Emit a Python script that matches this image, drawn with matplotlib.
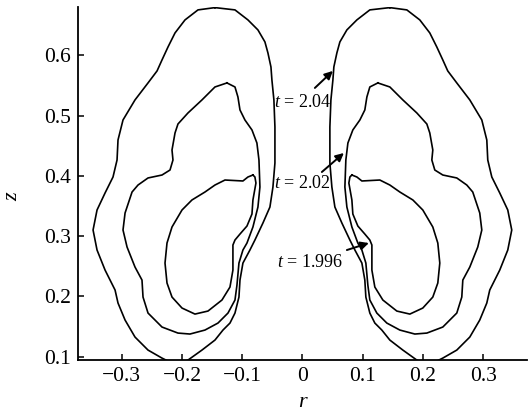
import matplotlib
matplotlib.use("Agg")
import matplotlib.pyplot as plt
import numpy as np

plt.rcParams['font.family'] = ['Liberation Serif', 'DejaVu Serif']
plt.rcParams['mathtext.fontset'] = 'custom'
plt.rcParams['mathtext.rm'] = 'Liberation Serif'
plt.rcParams['mathtext.it'] = 'Liberation Serif:italic'

# Interface contours (right half, r > 0); the left half is the mirror image
r_204 = [0.1451, 0.1733, 0.1948, 0.2114, 0.2230, 0.2330, 0.2412, 0.2562, 0.2778,
         0.2977, 0.3060, 0.3076, 0.3143, 0.3275, 0.3408, 0.3474, 0.3408, 0.3275,
         0.3109, 0.3060, 0.2943, 0.2778, 0.2562, 0.2330, 0.2197, 0.2032, 0.1899,
         0.1667, 0.1451, 0.1318, 0.1202, 0.1119, 0.1053, 0.1036, 0.0987, 0.0871,
         0.0788, 0.0655, 0.0539, 0.0489, 0.0456, 0.0456, 0.0473, 0.0506, 0.0522,
         0.0572, 0.0622, 0.0738, 0.0904, 0.1119, 0.1451]
z_204 = [0.6790, 0.6752, 0.6586, 0.6370, 0.6138, 0.5922, 0.5740, 0.5541, 0.5259,
         0.4927, 0.4595, 0.4263, 0.3981, 0.3716, 0.3434, 0.3102, 0.2770, 0.2438,
         0.2107, 0.1891, 0.1609, 0.1327, 0.1111, 0.0978, 0.0912, 0.0879, 0.0945,
         0.1111, 0.1277, 0.1443, 0.1559, 0.1725, 0.1990, 0.2272, 0.2554, 0.2770,
         0.2936, 0.3218, 0.3483, 0.3815, 0.4213, 0.4811, 0.5259, 0.5590, 0.5806,
         0.6038, 0.6221, 0.6420, 0.6586, 0.6752, 0.6790]

r_202 = [0.1252, 0.1451, 0.1667, 0.1899, 0.2065, 0.2114, 0.2164, 0.2148, 0.2197,
         0.2330, 0.2562, 0.2728, 0.2827, 0.2943, 0.2977, 0.2910, 0.2778, 0.2662,
         0.2645, 0.2562, 0.2330, 0.2065, 0.1866, 0.1617, 0.1401, 0.1235, 0.1119,
         0.1086, 0.1053, 0.0987, 0.0920, 0.0821, 0.0738, 0.0705, 0.0721, 0.0755,
         0.0837, 0.0954, 0.1036, 0.1070, 0.1119, 0.1252]
z_202 = [0.5541, 0.5474, 0.5259, 0.5043, 0.4860, 0.4711, 0.4429, 0.4263, 0.4097,
         0.4014, 0.3965, 0.3848, 0.3732, 0.3384, 0.3102, 0.2820, 0.2488, 0.2272,
         0.1990, 0.1725, 0.1493, 0.1393, 0.1377, 0.1443, 0.1559, 0.1725, 0.1941,
         0.2189, 0.2554, 0.2770, 0.2886, 0.3152, 0.3483, 0.3815, 0.4263, 0.4545,
         0.4761, 0.4927, 0.5093, 0.5308, 0.5474, 0.5541]

r_1996 = [0.0821, 0.0904, 0.0987, 0.1285, 0.1451, 0.1617, 0.1833, 0.1998, 0.2164,
          0.2247, 0.2280, 0.2247, 0.2164, 0.1998, 0.1783, 0.1567, 0.1335, 0.1202,
          0.1153, 0.1153, 0.1119, 0.1036, 0.0920, 0.0837, 0.0821, 0.0771, 0.0788,
          0.0821]
z_1996 = [0.4014, 0.3981, 0.3915, 0.3931, 0.3848, 0.3732, 0.3600, 0.3434, 0.3152,
          0.2886, 0.2554, 0.2223, 0.1990, 0.1808, 0.1708, 0.1758, 0.1941, 0.2156,
          0.2438, 0.2853, 0.2936, 0.3035, 0.3168, 0.3367, 0.3600, 0.3881, 0.3981,
          0.4014]

# label text, label position, arrow tail, arrow head
labels = ['$t$ = 2.04', '$t$ = 2.02', '$t$ = 1.996']
label_pos = [(0.0, 0.521), (0.0, 0.388), (0.0133, 0.257)]
arrow_tail = [(0.0207, 0.5458), (0.0323, 0.4064), (0.0738, 0.2770)]
arrow_head = [(0.0506, 0.5740), (0.0688, 0.4379), (0.1103, 0.2886)]

fig = plt.figure(figsize=(5.31, 4.12), dpi=100)
ax = fig.add_axes([0.147, 0.126, 0.845, 0.857])

for r, z in [(r_204, z_204), (r_202, z_202), (r_1996, z_1996)]:
    r = np.asarray(r)
    ax.plot(r, z, color='black', lw=1.2, solid_joinstyle='round')
    ax.plot(-r, z, color='black', lw=1.2, solid_joinstyle='round')

for txt, pos, tail, head in zip(labels, label_pos, arrow_tail, arrow_head):
    ax.text(pos[0], pos[1], txt, fontsize=13, ha='center', va='center')
    ax.annotate('', xy=head, xytext=tail,
                arrowprops=dict(arrowstyle='-|>', color='black', lw=1.4,
                                mutation_scale=12, shrinkA=0, shrinkB=0))

ax.set_xlim(-0.3723, 0.3723)
ax.set_ylim(0.0945, 0.680)
ax.set_xticks([-0.3, -0.2, -0.1, 0, 0.1, 0.2, 0.3])
ax.set_xticklabels(['\u22120.3', '\u22120.2', '\u22120.1', '0', '0.1', '0.2', '0.3'])
ax.set_yticks([0.1, 0.2, 0.3, 0.4, 0.5, 0.6])
ax.set_yticklabels(['0.1', '0.2', '0.3', '0.4', '0.5', '0.6'])
ax.tick_params(direction='in', length=4, width=1.1, labelsize=15.5, pad=5)

for side in ['top', 'right']:
    ax.spines[side].set_visible(False)
for side in ['left', 'bottom']:
    ax.spines[side].set_linewidth(1.3)

ax.set_xlabel('r', fontsize=16, fontstyle='italic')
ax.set_ylabel('z', fontsize=16, fontstyle='italic')
ax.xaxis.set_label_coords(0.5, -0.093)
ax.yaxis.set_label_coords(-0.125, 0.462)

fig.savefig('out.png', dpi=100)
